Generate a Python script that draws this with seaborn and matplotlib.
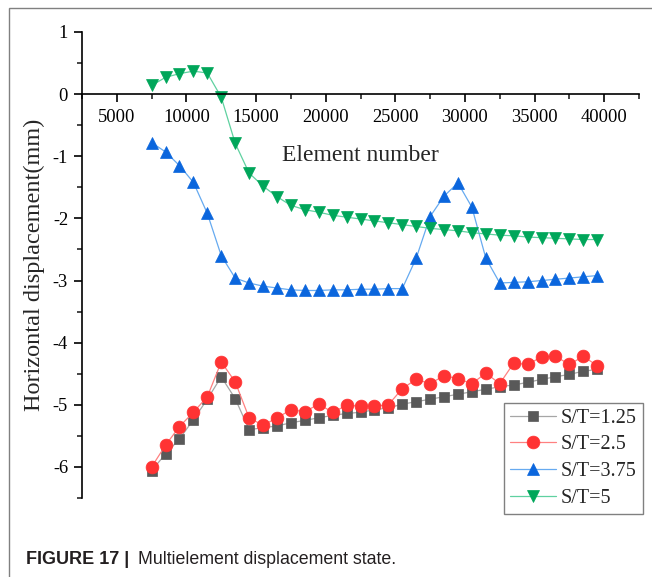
import numpy as np
import pandas as pd
import matplotlib
matplotlib.use("Agg")
import matplotlib.pyplot as plt
import seaborn as sns
from matplotlib.ticker import MultipleLocator
from matplotlib.patches import Rectangle

# ---- data ----
element = list(range(7500, 40500, 1000))

st_125 = [-6.06, -5.79, -5.55, -5.24, -4.91, -4.55, -4.90, -5.40, -5.37, -5.34,
          -5.29, -5.25, -5.21, -5.17, -5.14, -5.12, -5.08, -5.05, -4.99, -4.95,
          -4.91, -4.87, -4.83, -4.79, -4.75, -4.71, -4.68, -4.64, -4.59, -4.55,
          -4.51, -4.46, -4.43]
st_25 = [-6.00, -5.65, -5.35, -5.12, -4.87, -4.31, -4.63, -5.21, -5.33, -5.21,
         -5.08, -5.11, -4.99, -5.12, -5.01, -5.02, -5.02, -5.00, -4.74, -4.59,
         -4.66, -4.53, -4.58, -4.66, -4.49, -4.66, -4.33, -4.35, -4.23, -4.22,
         -4.35, -4.22, -4.37]
st_375 = [-0.78, -0.93, -1.15, -1.42, -1.92, -2.60, -2.96, -3.04, -3.09, -3.12,
          -3.15, -3.16, -3.16, -3.15, -3.15, -3.14, -3.14, -3.13, -3.13, -2.64,
          -1.97, -1.64, -1.43, -1.82, -2.64, -3.04, -3.03, -3.02, -3.00, -2.98,
          -2.96, -2.94, -2.92]
st_5 = [0.14, 0.27, 0.33, 0.37, 0.34, -0.05, -0.79, -1.27, -1.48, -1.65,
        -1.79, -1.86, -1.90, -1.95, -1.98, -2.01, -2.04, -2.07, -2.10, -2.13,
        -2.16, -2.18, -2.20, -2.23, -2.25, -2.27, -2.28, -2.30, -2.31, -2.32,
        -2.33, -2.34, -2.34]

labels = ["S/T=1.25", "S/T=2.5", "S/T=3.75", "S/T=5"]
series = [st_125, st_25, st_375, st_5]
marker_colors = ["#595959", "#ff3333", "#0b66dd", "#00a65a"]
line_colors = ["#a6a6a6", "#ff8080", "#66aaf0", "#5fd1a0"]
markers = ["s", "o", "^", "v"]
msizes = [7.5, 9.2, 9.3, 9.3]

sns.set_style("ticks")
plt.rcParams["font.family"] = ["Liberation Serif", "DejaVu Serif"]
plt.rcParams["axes.unicode_minus"] = False

fig = plt.figure(figsize=(6.52, 5.77), dpi=100)
ax = fig.add_axes([82 / 652, 1 - 498 / 577, (639 - 82) / 652, (498 - 32) / 577])

for lab, vals, mc, lc, mk, ms in zip(labels, series, marker_colors, line_colors, markers, msizes):
    df = pd.DataFrame({"Element number": element, "disp": vals})
    sns.lineplot(data=df, x="Element number", y="disp", ax=ax, color=lc, lw=0.9,
                 marker=mk, markersize=ms, markerfacecolor=mc, markeredgecolor=mc,
                 markeredgewidth=0.5, label=lab)

ax.set_xlim(2500, 42500)
ax.set_ylim(-6.5, 1)
ax.xaxis.set_major_locator(MultipleLocator(5000))
ax.xaxis.set_minor_locator(MultipleLocator(2500))
ax.yaxis.set_major_locator(MultipleLocator(1))
ax.yaxis.set_minor_locator(MultipleLocator(0.5))
ax.set_xticks(range(5000, 40001, 5000))

ax.spines["top"].set_visible(False)
ax.spines["right"].set_visible(False)
ax.spines["bottom"].set_position(("data", 0))
for s in ["left", "bottom"]:
    ax.spines[s].set_linewidth(1.2)
    ax.spines[s].set_color("black")

ax.tick_params(axis="both", which="major", direction="out", length=6, width=1.2,
               labelsize=13.3, colors="black")
ax.tick_params(axis="both", which="minor", direction="out", length=3.5, width=1.2)
ax.tick_params(axis="x", which="major", pad=5)
ax.tick_params(axis="y", which="major", pad=4)

ax.set_xlabel("Element number", fontsize=17)
ax.xaxis.set_label_coords(0.5, 0.757)
ax.set_ylabel("Horizontal displacement(mm)", fontsize=17.5)
ax.yaxis.set_label_coords(-0.066, 0.5)

leg = ax.legend(loc="lower right", bbox_to_anchor=(643 / 652, 1 - 514 / 577),
                bbox_transform=fig.transFigure, frameon=True, fancybox=False,
                framealpha=1, edgecolor="#808080", fontsize=14.5,
                handlelength=2.3, handletextpad=0.25, borderpad=0.3,
                labelspacing=0.38, borderaxespad=0)
leg.get_frame().set_linewidth(1.0)

# border around figure panel
fig.patches.append(Rectangle((9 / 652, -0.1), 1.2, 1 - 8 / 577 + 0.1,
                             transform=fig.transFigure, fill=False,
                             edgecolor="#808080", lw=1.0))

fig.text(26 / 652, 1 - 560 / 577, "FIGURE 17 |", fontsize=13, fontweight="bold",
         family=["Liberation Sans", "DejaVu Sans"], va="center", ha="left", color="#231f20")
fig.text(138 / 652, 1 - 560 / 577, "Multielement displacement state.", fontsize=12.8,
         family=["Liberation Sans", "DejaVu Sans"], va="center", ha="left", color="#231f20")

fig.savefig("out.png", dpi=100)
